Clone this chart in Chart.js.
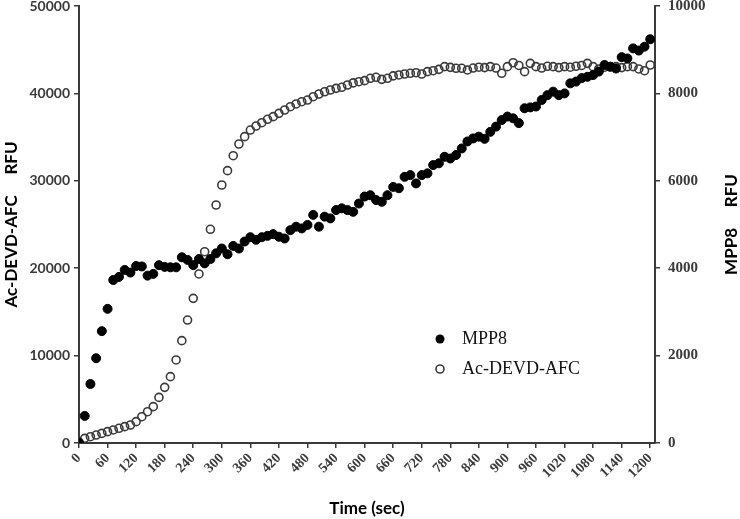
<!DOCTYPE html>
<html>
<head>
<meta charset="utf-8">
<script src="https://cdn.jsdelivr.net/npm/chart.js@4.4.1/dist/chart.umd.min.js"></script>
<style>
  html, body { margin: 0; padding: 0; background: #fff; }
  #wrap { width: 740px; height: 519px; position: relative; }
</style>
</head>
<body>
<div id="wrap"><canvas id="kineticsChart"></canvas></div>
<script>
// Sample times (sec)
const timeSec = [
    0, 12, 24, 36, 48, 60, 72, 84, 96, 108, 120, 132, 144, 156, 168, 180, 192, 204, 216, 228,
    240, 252, 264, 276, 288, 300, 312, 324, 336, 348, 360, 372, 384, 396, 408, 420, 432, 444, 456, 468,
    480, 492, 504, 516, 528, 540, 552, 564, 576, 588, 600, 612, 624, 636, 648, 660, 672, 684, 696, 708,
    720, 732, 744, 756, 768, 780, 792, 804, 816, 828, 840, 852, 864, 876, 888, 900, 912, 924, 936, 948,
    960, 972, 984, 996, 1008, 1020, 1032, 1044, 1056, 1068, 1080, 1092, 1104, 1116, 1128, 1140, 1152, 1164, 1176, 1188,
    1200
];

// MPP8 RFU (right axis)
const mpp8Rfu = [
    0, 620, 1350, 1940, 2560, 3070, 3730, 3800, 3960, 3900, 4050, 4040, 3830, 3870, 4070, 4030, 4020, 4020, 4250, 4190,
    4070, 4210, 4110, 4210, 4340, 4450, 4320, 4510, 4450, 4610, 4710, 4650, 4710, 4740,
    4780, 4720, 4680, 4870, 4950, 4910, 4990, 5220, 4950, 5180, 5140, 5330, 5370, 5330, 5290, 5480,
    5640, 5670, 5560, 5520, 5670, 5860, 5830, 6090, 6130, 5940, 6130, 6170, 6360, 6400, 6550, 6510, 6590,
    6740, 6900, 6970, 7010, 6960, 7120, 7240, 7390, 7470, 7430, 7320, 7660, 7680, 7700, 7850, 7960, 8040,
    7960, 8000, 8230, 8270, 8350, 8380, 8420, 8500, 8650, 8610, 8570, 8830, 8800, 9030, 8980, 9070, 9240
];

// Ac-DEVD-AFC RFU (left axis)
const afcRfu = [
    100, 530, 720, 910, 1100, 1300, 1490, 1680, 1870, 2060, 2440, 3010, 3580, 4160, 5220, 6370, 7590, 9500,
    11710, 14070, 16550, 19340, 21890, 24450, 27230, 29520, 31160, 32870,
    34210, 35050, 35810, 36270, 36650, 37040, 37340, 37720, 38100, 38480, 38790, 39050, 39240, 39620,
    39930, 40190, 40390, 40580, 40700, 40960,
    41200, 41340, 41460, 41730, 41840, 41610, 41730, 42000, 42110, 42220, 42300, 42370, 42220, 42490,
    42600, 42750, 43060, 42980, 42870,
    42870, 42680, 42900, 43000, 42950, 43060, 42900, 42300, 43060, 43510, 43200, 42490, 43440, 43060,
    42900, 43100, 43060, 42950, 43060, 43000, 43100, 43200, 43440, 43060, 42800, 43000, 43060, 43060,
    42950, 43060, 43060, 42800, 42600, 43250
];

// Tick values
const xTickValues = [0, 60, 120, 180, 240, 300, 360, 420, 480, 540, 600, 660, 720, 780, 840, 900, 960, 1020, 1080, 1140, 1200];
const leftTickValues = [0, 10000, 20000, 30000, 40000, 50000];
const rightTickValues = [0, 2000, 4000, 6000, 8000, 10000];

const axisColor = '#3a3a3a';

function toPoints(xs, ys) {
    return xs.map((x, i) => ({ x: x, y: ys[i] }));
}

function setTicks(values) {
    return function (scale) {
        scale.ticks = values.map(v => ({ value: v }));
    };
}

function plainLabel(value) {
    return String(value);
}

// legend inside the plot + right axis title (reads bottom to top)
const overlayPlugin = {
    id: 'overlay',
    afterDraw(chart) {
        const ctx = chart.ctx;
        const area = chart.chartArea;
        ctx.save();

        ctx.fillStyle = '#000';
        ctx.beginPath();
        ctx.arc(440, 339, 4.5, 0, Math.PI * 2);
        ctx.fill();

        ctx.strokeStyle = axisColor;
        ctx.lineWidth = 1.6;
        ctx.beginPath();
        ctx.arc(440, 369, 4, 0, Math.PI * 2);
        ctx.stroke();

        ctx.font = '18px "Liberation Serif", serif';
        ctx.textAlign = 'left';
        ctx.textBaseline = 'middle';
        ctx.fillStyle = '#111';
        ctx.fillText('MPP8', 462, 339);
        ctx.fillText('Ac-DEVD-AFC', 462, 369);

        ctx.translate(732, (area.top + area.bottom) / 2);
        ctx.rotate(-Math.PI / 2);
        ctx.textAlign = 'center';
        ctx.font = 'bold 17px Lato, sans-serif';
        ctx.fillStyle = '#000';
        ctx.fillText('MPP8     RFU', 0, 0);
        ctx.restore();
    }
};

function initKineticsChart() {
    const ctx = document.getElementById('kineticsChart');
    if (!ctx) return;

    const data = {
        datasets: [
            {
                label: 'MPP8',
                data: toPoints(timeSec, mpp8Rfu),
                yAxisID: 'yRight',
                pointStyle: 'circle',
                pointRadius: 4.5,
                pointBackgroundColor: '#000',
                pointBorderColor: '#000',
                pointBorderWidth: 1,
                showLine: false
            },
            {
                label: 'Ac-DEVD-AFC',
                data: toPoints(timeSec, afcRfu),
                yAxisID: 'yLeft',
                pointStyle: 'circle',
                pointRadius: 4,
                pointBackgroundColor: 'rgba(255, 255, 255, 0)',
                pointBorderColor: axisColor,
                pointBorderWidth: 1.6,
                showLine: false
            }
        ]
    };

    const config = {
        type: 'scatter',
        data: data,
        options: {
            responsive: true,
            maintainAspectRatio: false,
            animation: false,
            layout: { padding: 0 },
            plugins: {
                legend: { display: false },
                tooltip: { enabled: false }
            },
            scales: {
                x: {
                    type: 'linear',
                    position: 'bottom',
                    min: 0,
                    max: 1210,
                    afterBuildTicks: setTicks(xTickValues),
                    afterFit: function (scale) {
                        scale.height = 76;
                        scale.paddingLeft = 0;
                        scale.paddingRight = 0;
                    },
                    grid: {
                        drawOnChartArea: false,
                        tickLength: 5,
                        color: axisColor,
                        lineWidth: 1.5
                    },
                    border: { color: axisColor, width: 2 },
                    ticks: {
                        minRotation: 45,
                        maxRotation: 45,
                        padding: 2,
                        color: axisColor,
                        callback: plainLabel,
                        font: { size: 14, weight: 'bold', family: "'Liberation Serif', serif" }
                    },
                    title: {
                        display: true,
                        text: 'Time (sec)',
                        color: '#000',
                        padding: { top: 1, bottom: 0 },
                        font: { size: 17, weight: 'bold', family: 'Lato, sans-serif' }
                    }
                },
                yLeft: {
                    type: 'linear',
                    position: 'left',
                    min: 0,
                    max: 50000,
                    afterBuildTicks: setTicks(leftTickValues),
                    afterFit: function (scale) {
                        scale.width = 79;
                        scale.paddingTop = 6;
                        scale.paddingBottom = 0;
                    },
                    grid: {
                        drawOnChartArea: false,
                        tickLength: 5,
                        color: axisColor,
                        lineWidth: 1.5
                    },
                    border: { color: axisColor, width: 2 },
                    ticks: {
                        padding: 4,
                        color: axisColor,
                        callback: plainLabel,
                        font: { size: 14, weight: 'bold', family: 'Lato, sans-serif' }
                    },
                    title: {
                        display: true,
                        text: 'Ac-DEVD-AFC     RFU',
                        color: '#000',
                        padding: { top: 1, bottom: 0 },
                        font: { size: 17, weight: 'bold', family: 'Lato, sans-serif' }
                    }
                },
                yRight: {
                    type: 'linear',
                    position: 'right',
                    min: 0,
                    max: 10000,
                    afterBuildTicks: setTicks(rightTickValues),
                    afterFit: function (scale) {
                        scale.width = 85;
                        scale.paddingTop = 6;
                        scale.paddingBottom = 0;
                    },
                    grid: {
                        drawOnChartArea: false,
                        tickLength: 5,
                        color: axisColor,
                        lineWidth: 1.5
                    },
                    border: { color: axisColor, width: 2 },
                    ticks: {
                        padding: 8,
                        color: axisColor,
                        callback: plainLabel,
                        font: { size: 15, weight: 'bold', family: "'Liberation Serif', serif" }
                    }
                }
            }
        },
        plugins: [overlayPlugin]
    };

    new Chart(ctx, config);
}

if (document.readyState === 'loading') {
    document.addEventListener('DOMContentLoaded', initKineticsChart);
} else {
    initKineticsChart();
}
</script>
</body>
</html>
